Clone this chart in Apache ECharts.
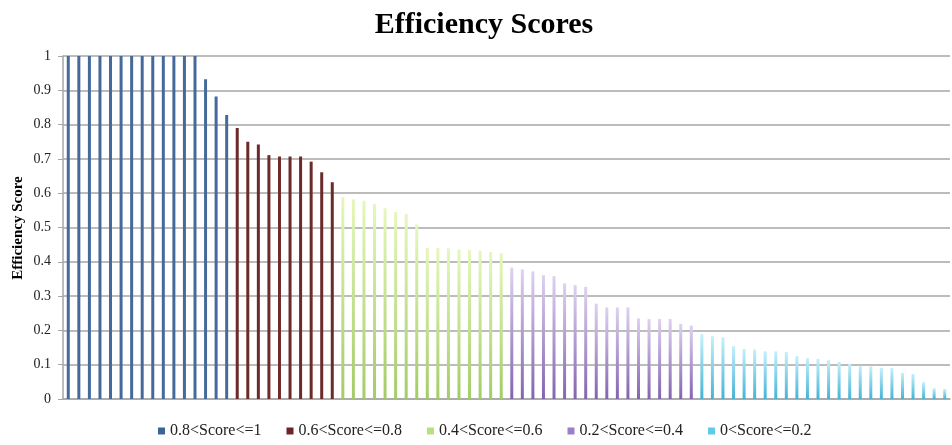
<!DOCTYPE html>
<html style="height: 100%">
<head>
<meta charset="utf-8">
<script src="https://cdn.jsdelivr.net/npm/echarts@6/dist/echarts.min.js"></script>
</head>
<body style="height: 100%; margin: 0; background: #fff">
<div id="container" style="width: 952px; height: 445px"></div>
<script type="text/javascript">
// efficiency scores, grouped by band
var band1 = [1, 1, 1, 1, 1, 1, 1, 1, 1, 1, 1, 1, 1, 0.932, 0.882, 0.828];
var band2 = [0.79, 0.75, 0.742, 0.711, 0.707, 0.707, 0.707, 0.692, 0.661, 0.632];
var band3 = [0.588, 0.582, 0.578, 0.569, 0.556, 0.545, 0.539, 0.509,
             0.441, 0.44, 0.439, 0.436, 0.434, 0.432, 0.429, 0.425];
var band4 = [0.383, 0.378, 0.372, 0.361, 0.358, 0.337, 0.332, 0.327, 0.278,
             0.267, 0.267, 0.267, 0.235, 0.233, 0.233, 0.233, 0.219, 0.214];
var band5 = [0.189, 0.183, 0.18, 0.154, 0.146, 0.144, 0.139, 0.139, 0.137, 0.125,
             0.119, 0.117, 0.113, 0.108, 0.103, 0.097, 0.095, 0.091, 0.09, 0.076,
             0.073, 0.049, 0.031, 0.029];
var bandNames = ['0.8<Score<=1', '0.6<Score<=0.8', '0.4<Score<=0.6', '0.2<Score<=0.4', '0<Score<=0.2'];

var bands = [band1, band2, band3, band4, band5];
var total = 0;
bands.forEach(function (b) { total += b.length; });
var cats = [];
for (var i = 0; i < total; i++) cats.push(String(i + 1));

function grad(top, bottom) {
    return new echarts.graphic.LinearGradient(0, 0, 0, 1, [
        { offset: 0, color: top }, { offset: 1, color: bottom }
    ]);
}
var barColors = [
    '#46699c',
    '#6c2a29',
    grad('#e6f7bd', '#a3cc66'),
    grad('#ddd2f0', '#8463b0'),
    grad('#c4f0fb', '#45b3d6')
];
var iconColors = ['#3d6499', '#6c2424', '#b9e07e', '#9b80c9', '#5fcbe8'];

var series = [];
var offset = 0;
bands.forEach(function (b, k) {
    var d = [];
    for (var i = 0; i < total; i++) {
        var j = i - offset;
        d.push(j >= 0 && j < b.length ? b[j] : '-');
    }
    offset += b.length;
    series.push({
        name: bandNames[k],
        type: 'bar',
        stack: 'all',
        barWidth: 3,
        data: d,
        itemStyle: { color: barColors[k] }
    });
});

var myChart = echarts.init(document.getElementById('container'));
var option = {
    animation: false,
    title: {
        text: 'Efficiency Scores',
        left: 479,
        textAlign: 'center',
        top: 5,
        textStyle: { fontFamily: 'Liberation Serif', fontWeight: 'bold', fontSize: 30, color: '#000' }
    },
    // y axis title placed by hand, the axis name kept snapping to the edge
    graphic: [{
        type: 'text',
        x: 18,
        y: 228,
        rotation: Math.PI / 2,
        style: {
            text: 'Efficiency Score',
            font: 'bold 15px "Liberation Serif"',
            fill: '#000',
            align: 'center',
            verticalAlign: 'middle'
        }
    }],
    legend: {
        bottom: 1,
        left: 153,
        icon: 'rect',
        itemWidth: 7,
        itemHeight: 7,
        itemGap: 25,
        data: bandNames.map(function (n, k) {
            return { name: n, itemStyle: { color: iconColors[k] } };
        }),
        textStyle: { fontFamily: 'Liberation Serif', fontSize: 16, color: '#222' }
    },
    grid: { left: 63, right: 2, top: 56, bottom: 46 },
    xAxis: {
        type: 'category',
        data: cats,
        axisTick: { show: false },
        axisLabel: { show: false },
        axisLine: { lineStyle: { color: '#a6a6a6', width: 1.5 } }
    },
    yAxis: {
        type: 'value',
        min: 0,
        max: 1,
        interval: 0.1,
        axisLine: { show: true, lineStyle: { color: '#a6a6a6', width: 1.5 } },
        axisTick: { show: true, length: 5, lineStyle: { color: '#a6a6a6' } },
        axisLabel: {
            fontFamily: 'Liberation Serif', fontSize: 14, color: '#222', margin: 12,
            formatter: function (v) { return String(Math.round(v * 10) / 10); }
        },
        splitLine: { lineStyle: { color: '#a6a6a6', width: 1.5 } }
    },
    series: series
};
myChart.setOption(option);
</script>
</body>
</html>
